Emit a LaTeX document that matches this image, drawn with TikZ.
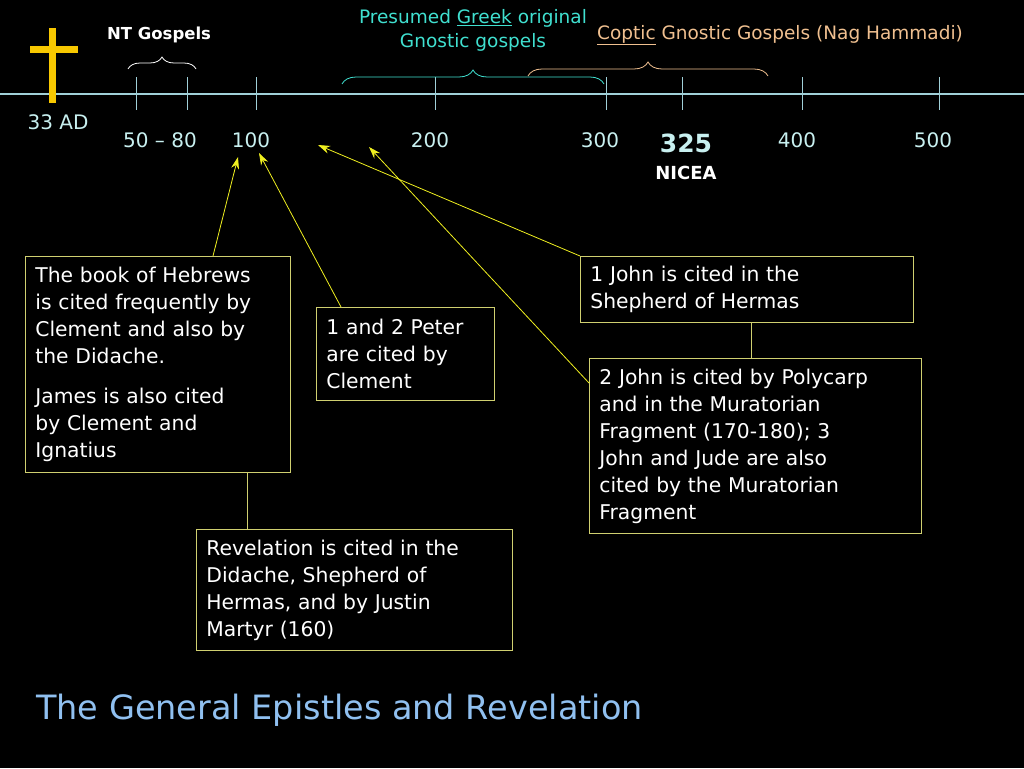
\documentclass[tikz,border=0pt]{standalone}
\usepackage{fontspec}
\setmainfont{DejaVu Sans}
\usetikzlibrary{decorations.pathreplacing,arrows.meta}
\begin{document}
\begin{tikzpicture}[x=1pt,y=-1pt,
  lab/.style={text=tl,font=\fontsize{20}{22}\selectfont,inner sep=0},
  box/.style={draw=bx,line width=0.8pt,text=white,align=left,anchor=north west,inner xsep=10pt,inner ysep=7pt,font=\fontsize{20.3}{27}\selectfont},
  ptr/.style={draw=yl,line width=0.8pt,-{Stealth[length=12pt,width=8pt]}},
  link/.style={draw=bx,line width=0.8pt},
  brc/.style={decorate,decoration={brace,amplitude=12pt},line width=0.8pt}]
\definecolor{tl}{HTML}{C8F0F0}
\definecolor{bx}{HTML}{D0D070}
\definecolor{yl}{HTML}{F0F020}
\definecolor{cy}{HTML}{40E0D0}
\definecolor{tn}{HTML}{F0C090}
\definecolor{gd}{HTML}{F8C800}
\definecolor{ax}{HTML}{A0D0D8}
\fill[black] (0,0) rectangle (1024,768);
\useasboundingbox (0,0) rectangle (1024,768);
% axis
\coordinate (a0) at (0,94); \coordinate (a1) at (1024,94);
\draw[ax,line width=1.6pt] (a0) -- (a1);
\foreach \x in {136,187,256,435,606,682,802,939} \draw[ax,line width=1pt] (\x,77) -- (\x,110);
% cross
\fill[gd] (48.5,28) rectangle (55.5,103);
\fill[gd] (30,46.5) rectangle (78,53.5);
% labels
\node[lab] (l33) at (58,122) {33 AD};
\node[lab] (l50) at (160,140) {50 – 80};
\node[lab] (l100) at (251,140) {100};
\node[lab] (l200) at (430,140) {200};
\node[lab] (l300) at (600,140) {300};
\node[lab,font=\bfseries\fontsize{25}{28}\selectfont] (l325) at (686,143) {325};
\node[lab,text=white,font=\bfseries\fontsize{18}{22}\selectfont] (nic) at (686,173) {NICEA};
\node[lab] (l400) at (797,140) {400};
\node[lab] (l500) at (933,140) {500};
% top labels
\node[inner sep=0,text=white,font=\bfseries\fontsize{16.5}{20}\selectfont] (ntg) at (159,35) {NT Gospels};
\draw[white,brc] (128,69) -- (196,69);
\node[inner sep=0,text=cy,align=center,font=\fontsize{18.5}{24}\selectfont] (pg) at (473,30) {Presumed \underline{Greek} original\\Gnostic gospels};
\draw[cy,brc,decoration={amplitude=14pt}] (342,84) -- (604,84);
\node[inner sep=0,text=tn,font=\fontsize{18.5}{22}\selectfont] (cg) at (780,35) {\underline{Coptic} Gnostic Gospels (Nag Hammadi)};
\draw[tn,brc,decoration={amplitude=14pt}] (528,76) -- (768,76);
% boxes
\node[box,text width=245pt,minimum height=216pt] (b1) at (25,256) {The book of Hebrews\\is cited frequently by\\Clement and also by\\the Didache.\\[13pt]James is also cited\\by Clement and\\Ignatius};
\node[box,text width=158pt,minimum height=93pt] (b2) at (316,307) {1 and 2 Peter\\are cited by\\Clement};
\node[box,text width=313pt,minimum height=66pt] (b3) at (580,256) {1 John is cited in the\\Shepherd of Hermas};
\node[box,text width=312pt,minimum height=175pt] (b4) at (589,358) {2 John is cited by Polycarp\\and in the Muratorian\\Fragment (170-180); 3\\John and Jude are also\\cited by the Muratorian\\Fragment};
\node[box,text width=296pt,minimum height=121pt] (b5) at (196,529) {Revelation is cited in the\\Didache, Shepherd of\\Hermas, and by Justin\\Martyr (160)};
% pointers
\coordinate (t1) at (238,157); \coordinate (t2) at (259,153);
\coordinate (t3) at (318,145); \coordinate (t4) at (369,147);
\draw[ptr] (213,256) -- (t1);
\draw[ptr] (341,307) -- (t2);
\draw[ptr] (b3.north west) -- (t3);
\draw[ptr] (589,383) -- (t4);
\draw[link] (247,472) -- (247,529);
\draw[link] (751,322) -- (751,358);
% title
\node[anchor=west,inner sep=0,text={rgb,255:red,144;green,192;blue,240},font=\fontsize{33.5}{36}\selectfont] (title) at (36,710) {The General Epistles and Revelation};
\end{tikzpicture}
\end{document}
